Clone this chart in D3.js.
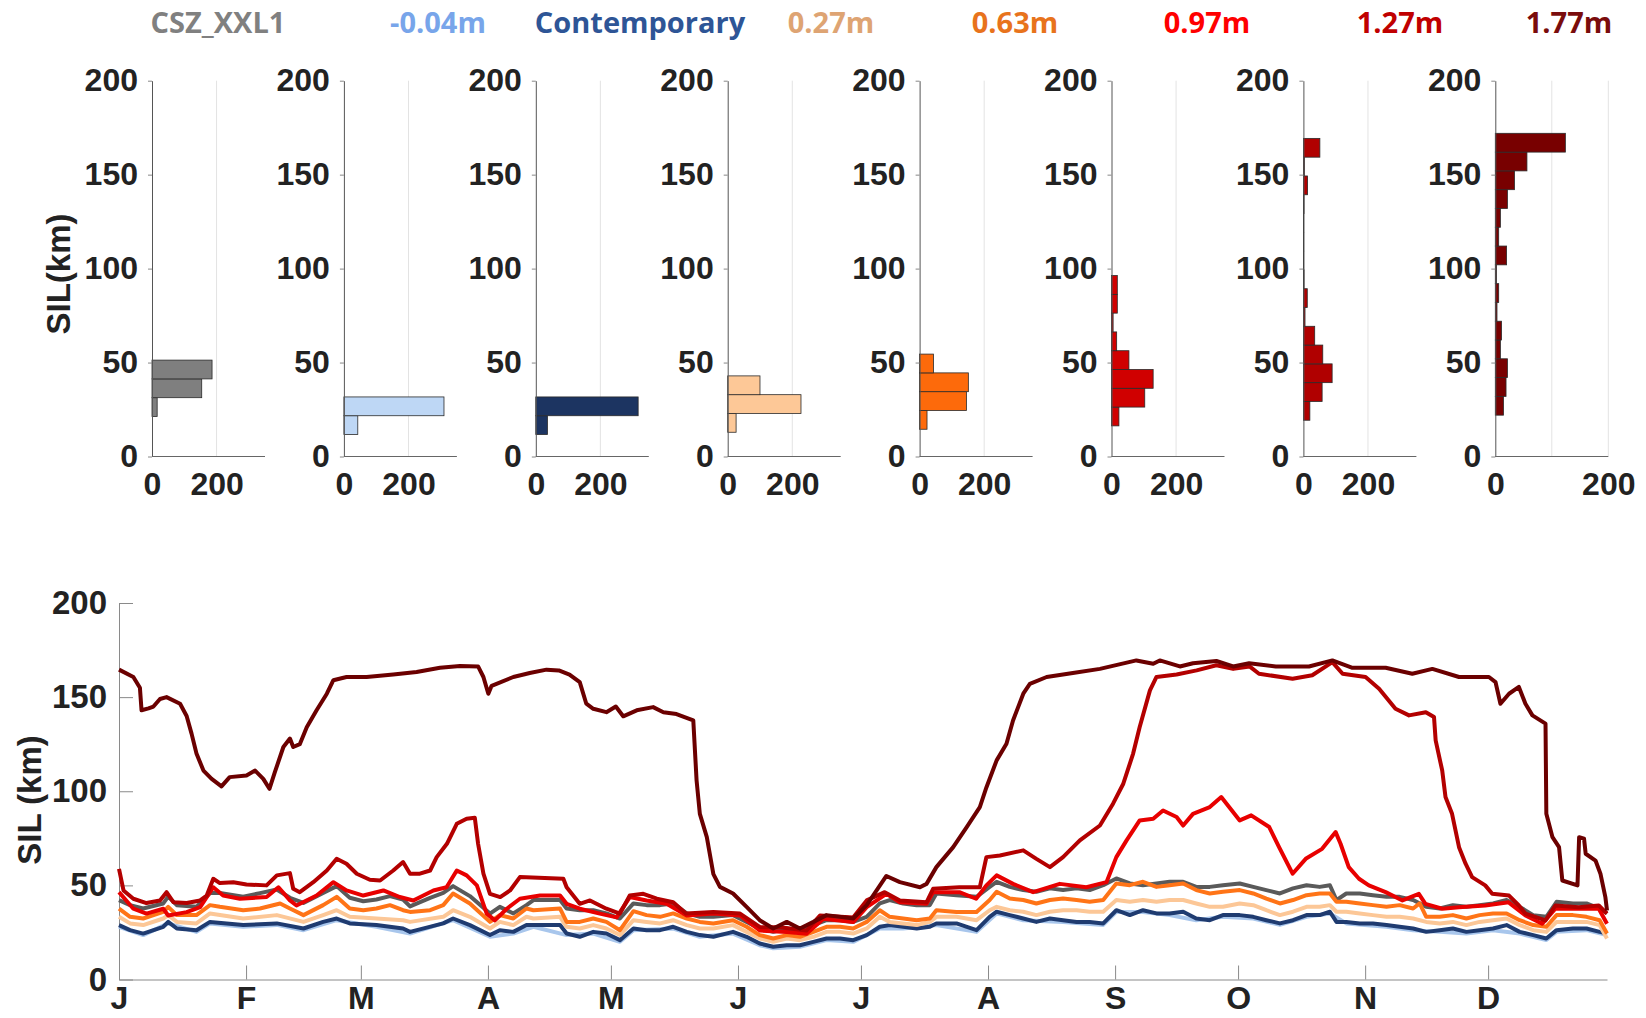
<!DOCTYPE html>
<html>
<head>
<meta charset="utf-8">
<script src="https://cdn.jsdelivr.net/npm/d3@7"></script>
<style>
  body { margin: 0; background: #fff; }
  svg text { font-family: "Liberation Sans", Arial, sans-serif; font-weight: bold; }
  .legend-label { font-family: "Open Sans", sans-serif; font-weight: 700; }
</style>
</head>
<body>
<div id="chart"></div>
<script>
// scenario names and colours
const scenarios = ["CSZ_XXL1", "-0.04m", "Contemporary", "0.27m", "0.63m", "0.97m", "1.27m", "1.77m"];
const legendColors = ["#808080", "#78a5ea", "#2e5596", "#dea473", "#e8731c", "#ff0000", "#c00000", "#7a0c0c"];
const histFill = ["#7f7f7f", "#bed7f5", "#1c3461", "#fdc897", "#fd6a0b", "#d00000", "#b00000", "#780000"];
const lineColors = ["#5a5a5a", "#a8c6ec", "#1f3b70", "#fcc797", "#ff7417", "#e80000", "#b30000", "#6b0000"];

// histogram data: lower edge of first bin (km), 10 km bins, counts (days)
const histBinStart = [21.3, 11.7, 11.7, 12.9, 14.5, 16.3, 19.3, 22];
const histBinWidth = 10;
const histCounts = [
  [16, 154, 186],
  [43, 310],
  [36, 317],
  [26, 227, 100],
  [23, 145, 151, 43],
  [23, 103, 129, 54, 16, 5, 18, 18],
  [20, 58, 89, 60, 35, 5, 12, 2, 1, 1, 1, 2, 13, 3, 51],
  [14.5, 19, 21.5, 9, 11, 3, 6, 2, 20, 6, 9, 21.5, 34, 56, 124]
];
const histXMax = [350, 350, 350, 350, 350, 350, 350, 200];
const histYTicks = [0, 50, 100, 150, 200];

// month ticks (day of year)
const monthStarts = [0, 31, 59, 90, 120, 151, 181, 212, 243, 273, 304, 334];
const monthLabels = ["J", "F", "M", "A", "M", "J", "J", "A", "S", "O", "N", "D"];

// daily SIL (km), [day of year, value]
const silCSZ = [[0,42.2],[2.7,39.5],[5.9,37.7],[10.8,40.4],[12,44],[14.1,39.5],[18.9,38.6],[22.2,45.9],[24.6,45.9],[30.3,44],[34.4,45.9],[38.5,47.8],[41.7,43.4],[45,40.7],[49.8,46],[53.1,49.6],[56.3,43.4],[59.6,41.6],[62.8,42.5],[66.1,44.3],[69.3,42.5],[71,38.8],[75.9,43.4],[79.1,46],[81.5,49.6],[85.6,44.3],[90.5,35],[92.9,38.6],[96.2,35.1],[99.4,39.5],[101.1,42.2],[107.6,42.2],[109.2,37.7],[112.4,36.8],[115.7,36.8],[118.9,35.1],[122.2,32.4],[125.5,40.4],[128.7,39.5],[132,39.5],[135.2,40.4],[138.5,35.1],[141.7,33.3],[145,33.3],[149.8,34.2],[153.1,30.6],[156.3,27.1],[159.6,25.3],[162.9,27.1],[166.1,25.3],[169.4,28.9],[172.6,31.5],[175.9,31.5],[179.1,30.6],[182.4,33.3],[185.6,40.4],[188,42.2],[191.3,40.4],[194.6,39.5],[197.8,39.5],[199.4,45.7],[204.3,44.8],[209.2,43.9],[212.4,49.2],[214.1,51.9],[217.3,49.2],[220.6,47.5],[223.8,46.6],[227.1,48.4],[230.3,47.5],[233.6,48.4],[236.8,47.5],[240.1,50.1],[243.3,53.7],[246.6,51],[249.8,50.1],[253.1,51],[256.3,51.9],[259.6,51.9],[262.8,49.2],[266.1,49.2],[269.3,50.1],[273.4,51],[276.7,49.2],[279.9,47.5],[283.2,45.7],[286.4,48.4],[289.7,50.1],[292.9,49.2],[295.4,50.1],[297,42.2],[299.4,45.7],[302.7,45.7],[305.9,44.8],[309.2,43.9],[312.4,43.9],[315.7,42.2],[318.9,38.6],[322.2,37.7],[325.4,39.5],[328.7,38.6],[331.9,39.5],[335.2,40.4],[338.5,42.2],[341.7,38.6],[345,34.2],[348.2,33.3],[350.7,41.3],[354.7,40.4],[358,40.4],[361.2,37.7],[363,35.1]];
const silM004 = [[0,28],[5.9,23.6],[12,29.8],[18.9,25.3],[22.2,29.8],[30.3,28],[38.5,29],[45,26.2],[53.1,31.5],[62.8,28],[71,24.4],[81.5,31.5],[90.5,22.7],[96.2,24.4],[101.1,28],[109.2,23.6],[115.7,24.4],[122.2,20],[125.5,26.2],[135.2,27.1],[141.7,22.7],[149.8,24.4],[156.3,18.2],[159.6,16.6],[166.1,17.4],[172.6,21],[179.1,20],[185.6,27.1],[191.3,27.1],[199.4,29],[209.2,25.3],[214.1,35.1],[220.6,31.5],[230.3,30.6],[240.1,29],[243.3,35.9],[249.8,35.9],[256.3,34.2],[262.8,31.5],[269.3,33.3],[276.7,32.4],[283.2,29],[289.7,33.3],[295.4,35.1],[299.4,29.8],[309.2,28],[315.7,26.2],[322.2,25.3],[328.7,24.4],[335.2,26.2],[341.7,24.4],[348.2,21],[350.7,25.3],[358,26.2],[363,23.6]];
const silContemp = [[0,28.9],[2.7,26.2],[5.9,24.4],[10.8,28],[12,30.6],[14.1,27.1],[18.9,26.2],[22.2,30.6],[30.3,28.9],[38.5,29.8],[45,27.1],[49.8,30.6],[53.1,32.4],[56.3,29.8],[62.8,28.9],[69.3,27.1],[71,25.3],[79.1,29.8],[81.5,32.4],[85.6,28.9],[90.5,23.6],[92.9,26.2],[96.2,25.3],[99.4,28.9],[101.1,28.9],[107.6,28.9],[109.2,24.4],[112.4,22.7],[115.7,25.3],[118.9,24.4],[122.2,20.9],[125.5,27.1],[128.7,26.2],[132,26.2],[135.2,28],[138.5,25.3],[141.7,23.6],[145,22.7],[149.8,25.3],[153.1,22.7],[156.3,19.1],[159.6,17.4],[162.9,18.2],[166.1,18.2],[169.4,20],[172.6,21.8],[175.9,21.8],[179.1,20.9],[182.4,23.6],[185.6,28],[188,28.9],[191.3,28],[194.6,27.1],[197.8,28],[199.4,29.8],[204.3,29.8],[209.2,26.2],[212.4,33.3],[214.1,36],[217.3,34.2],[220.6,32.4],[223.8,30.6],[227.1,32.4],[230.3,31.5],[233.6,30.6],[236.8,30.6],[240.1,29.8],[243.3,36.8],[246.6,34.2],[249.8,36.8],[253.1,35.1],[256.3,35.1],[259.6,36],[262.8,32.4],[266.1,31.5],[269.3,34.2],[273.4,34.2],[276.7,33.3],[279.9,31.5],[283.2,29.8],[286.4,31.5],[289.7,34.2],[292.9,34.2],[295.4,36],[297,30.6],[299.4,30.6],[302.7,29.8],[305.9,29.8],[309.2,28.9],[312.4,28],[315.7,27.1],[318.9,25.3],[322.2,26.2],[325.4,27.1],[328.7,25.3],[331.9,26.2],[335.2,27.1],[338.5,28.9],[341.7,25.3],[345,23.6],[348.2,21.8],[350.7,26.2],[354.7,27.1],[358,27.1],[361.2,25.3],[363,24.4]];
const sil027 = [[0,33.3],[2.7,29.8],[5.9,28.9],[10.8,32.4],[12,34.2],[14.1,30.6],[18.9,29.8],[22.2,35.1],[30.3,32.4],[38.5,34.2],[45,30.6],[49.8,34.2],[53.1,36.8],[56.3,33.3],[62.8,32.4],[69.3,31.5],[71,30.6],[79.1,33.3],[81.5,36.8],[85.6,33.3],[90.5,27.1],[92.9,30.6],[96.2,28.9],[99.4,33.3],[101.1,32.4],[107.6,33.3],[109.2,28],[112.4,27.1],[115.7,28.9],[118.9,27.1],[122.2,23.6],[125.5,31.5],[128.7,30.6],[132,29.8],[135.2,31.5],[138.5,28.9],[141.7,27.1],[145,27.1],[149.8,28.9],[153.1,25.3],[156.3,21.8],[159.6,20],[162.9,21.8],[166.1,20.9],[169.4,22.7],[172.6,25.3],[175.9,25.3],[179.1,24.4],[182.4,27.1],[185.6,33.3],[188,30.6],[191.3,29.8],[194.6,28.9],[197.8,30.6],[199.4,33.3],[204.3,33.3],[209.2,31.5],[212.4,36.8],[214.1,38.6],[217.3,36.8],[220.6,36],[223.8,34.2],[227.1,36],[230.3,36.8],[233.6,36.8],[236.8,36],[240.1,36],[243.3,42.2],[246.6,41.3],[249.8,42.2],[253.1,41.3],[256.3,42.2],[259.6,42.2],[262.8,40.4],[266.1,38.6],[269.3,38.6],[273.4,40.4],[276.7,39.5],[279.9,36.8],[283.2,34.2],[286.4,36],[289.7,38.6],[292.9,38.6],[295.4,39.5],[297,36],[299.4,36],[302.7,35.1],[305.9,34.2],[309.2,33.3],[312.4,33.3],[315.7,32.4],[318.9,30.6],[322.2,29.8],[325.4,30.6],[328.7,28.9],[331.9,30.6],[335.2,31.5],[338.5,32.4],[341.7,28.9],[345,26.2],[348.2,25.3],[350.7,30.6],[354.7,30.6],[358,30.6],[361.2,28.9],[363,21.8]];
const sil063 = [[0,37.7],[2.7,33.3],[5.9,32.4],[10.8,35.9],[12,38.6],[14.1,34.2],[18.9,34.2],[22.2,39.5],[24.6,38.6],[30.3,36.8],[34.4,37.7],[39.3,40.4],[41.7,37.7],[45,34.2],[49.8,39.5],[53.1,43.9],[56.3,37.7],[59.6,36.8],[62.8,37.7],[66.1,39.5],[69.3,36.8],[71,35.9],[75.9,36.8],[79.1,39.5],[81.5,45.7],[85.6,40.4],[90.5,30.6],[92.9,34.2],[96.2,32.4],[99.4,37.7],[101.1,36.8],[107.6,37.7],[109.2,30.6],[112.4,30.6],[115.7,32.4],[118.9,30.6],[122.2,26.2],[125.5,36.3],[128.7,34.2],[132,33.3],[135.2,35.1],[138.5,32.4],[141.7,30.6],[145,29.8],[149.8,31.5],[153.1,28],[156.3,23.6],[159.6,21.8],[162.9,23.6],[166.1,22.7],[169.4,25.3],[172.6,28],[175.9,28],[179.1,27.1],[182.4,30.6],[185.6,36.8],[188,33.3],[191.3,32.4],[194.6,31.5],[197.8,32.4],[199.4,36.8],[204.3,35.9],[209.2,35.9],[212.4,42.2],[214.1,46.6],[217.3,43],[220.6,42.2],[223.8,40.4],[227.1,42.2],[230.3,43],[233.6,42.2],[236.8,41.3],[240.1,42.2],[243.3,51],[246.6,50.1],[249.8,51.9],[253.1,49.2],[256.3,50.1],[259.6,51],[262.8,47.5],[266.1,45.7],[269.3,46.6],[273.4,47.5],[276.7,45.7],[279.9,43],[283.2,40.4],[286.4,42.2],[289.7,44.8],[292.9,45.7],[295.4,45.7],[297,41.3],[299.4,41.3],[302.7,40.4],[305.9,39.5],[309.2,38.6],[312.4,39.5],[315.7,37.7],[317.3,40.4],[318.9,33.3],[322.2,33.3],[325.4,34.2],[328.7,32.4],[331.9,34.2],[335.2,35.1],[338.5,35.1],[341.7,31.5],[345,28.9],[348.2,28],[350.7,34.2],[354.7,34.2],[358,33.3],[361.2,31.5],[363,24.4]];
const sil097 = [[0,46.4],[3.5,37.6],[6.7,35],[10.8,37.6],[12,34],[16.5,35.8],[19.8,38.4],[23,49],[25.4,44.6],[29.5,42.9],[36,43.8],[38.9,49],[41.7,42],[43.3,39.3],[48.2,44.6],[52.3,51.7],[55.5,47.3],[59.6,44.6],[64.5,47.3],[68.5,43.8],[71.8,42],[76.7,47.3],[79.9,49],[82.4,57.9],[84.8,55.3],[87.3,50],[89.7,35],[91.7,31.4],[94.6,37.6],[97.8,42.9],[102.7,44.6],[107.6,44.6],[109.2,40.2],[112.4,37.6],[117.3,35],[121.4,33],[124.6,43.8],[128.7,42],[133.6,40.2],[138.5,34],[145,35],[151.5,34],[156.4,26],[162.9,25.2],[167.7,24.3],[171.8,32.2],[179.1,30.5],[182.4,38.4],[187.2,45.5],[190.5,41],[197,40.2],[198.6,46.4],[205,46.4],[209.1,42.9],[211.6,50],[214.1,55.3],[218.1,50.8],[223,46.4],[229.5,50.8],[236,49],[240.9,51.7],[243.3,65],[245.8,73.9],[249,84.5],[252.3,85.4],[254.7,89.8],[258,86.3],[259.6,81.8],[262,88],[266.1,91.6],[268.9,96.9],[273.4,84.5],[276.2,87.2],[280.6,81],[283,70.3],[286.3,56.2],[289.5,64.1],[293.5,69.4],[296.8,78.3],[298,72.1],[300,59.7],[302.5,53.5],[304.9,50],[309,46.4],[313.1,42],[317.1,45.5],[318.7,40.2],[322.8,37.6],[326.9,38.4],[333.3,39.3],[339,41],[343.1,34],[347.2,29.6],[350.4,37.6],[356.1,37.6],[361,37.6],[363,29.6]];
const sil127 = [[0,58.8],[1.1,47.3],[3.5,42.9],[6.7,40.6],[10,42],[11.6,46.4],[13.3,41],[16.5,40.6],[19.8,42],[21.4,44.6],[23,53.5],[24.6,51.2],[27.9,51.7],[31.1,50.5],[36,50],[38.5,55.3],[41.7,56.5],[42.5,48.2],[44.1,46.4],[47.4,51.7],[50.7,57.9],[53.1,64.1],[55.5,61.5],[58,56.2],[61.2,53],[63.7,52.6],[66.9,57.9],[69.3,62.4],[71,56.2],[73.4,56.2],[75.9,57.9],[77.5,65],[80,72.1],[82.4,82.7],[84.8,85.4],[86.8,85.9],[87.6,72.1],[88.9,56.2],[90.5,45.5],[93,43.8],[95.4,47.3],[97.8,54.4],[108.4,53.5],[109.2,49],[112.4,40.2],[114.9,42],[118.9,37.6],[122.2,35],[124.6,44.6],[127.9,45.5],[131.2,42.9],[135.2,41],[138.3,35],[145,35.8],[151.5,35],[156.4,27.8],[161.2,27.8],[167.7,26],[171,34],[179.1,33],[182.4,42],[186.8,46.4],[190.5,42],[197,41],[198.6,48.2],[205,49],[210,49],[211.6,65],[214.9,65.9],[220.6,68.6],[223.8,64.1],[227.1,59.7],[230.3,65],[234.4,73.9],[239.3,81.8],[242.5,93.4],[245,104],[247.4,120],[249,134.1],[251.5,153.6],[253.1,160.7],[258,162],[262.9,164.2],[267.7,166.9],[271.8,165],[275.8,166.3],[278.1,162.4],[286.3,159.8],[291.1,161.6],[296,168.6],[298.5,162.4],[304.1,160.7],[307.4,154.5],[311.4,143.8],[314.7,140.3],[318.8,142],[320.8,139.4],[321.2,127],[322.8,111],[323.6,96.9],[325.2,88],[326.9,70.3],[328.5,61.5],[330.1,54.4],[333.3,50],[335,45.5],[339.1,44.6],[341.5,39.3],[343.1,35],[348,31.4],[350.4,39.3],[356.1,38.4],[361,39.3],[363,35]];
const sil177 = [[0,164.6],[3.5,160.7],[5.1,155],[5.5,143],[7.2,144],[8.4,145],[10,149],[11.6,150],[14.9,146.5],[16.5,140],[17.7,130.6],[18.9,120],[20.6,111],[22.6,106.6],[25,102.6],[27,107.5],[31.1,108.4],[33.2,111],[35.2,106.6],[36.7,101.3],[38,110],[40.1,123.5],[41.7,128],[42.5,123.5],[44.1,125],[45.8,134],[48.2,143],[50.7,151.8],[52.3,159],[55.5,160.7],[60.4,160.7],[66.9,162],[72.6,163.3],[78.3,165.6],[83.2,166.5],[87.6,166.3],[88.9,160.7],[90.1,151.8],[90.9,156],[96.2,160.7],[100.2,162.8],[104.3,164.6],[107.3,164.2],[109.9,162],[112.4,158],[114,146.5],[115.7,143.8],[118.9,142],[121.2,145],[123,139.8],[126.3,143],[130.3,144.7],[132.8,142],[136,141],[140.1,137.6],[140.9,105.8],[141.7,88],[143.4,75.6],[145,56],[146.6,49.2],[149.8,45.7],[153.1,38.6],[156.3,31.5],[159.6,27.1],[162.9,30.6],[166.1,27.1],[169.4,30.6],[172.6,34.2],[179.1,32.4],[182.4,39.5],[187.2,55],[190.5,51.7],[195.4,49],[197,50.8],[199.4,59.7],[203.5,70.3],[206.8,81],[210,91.6],[211.6,102],[214.1,116.4],[216.5,125.2],[218.1,137.6],[220.6,151.8],[222.2,157],[226.3,160.7],[232.7,162.8],[239.3,165],[248.2,169.5],[252.3,167.7],[253.9,169.5],[258.8,166.3],[262,168],[267.7,169.2],[271.8,166.3],[275.7,168],[282.2,166.3],[290.3,166.3],[296,169.5],[300.9,165.6],[309,165.6],[315.5,162.4],[320.4,165],[326.9,160.7],[334.2,160.7],[335.8,158],[337,146.5],[339.1,151.8],[341.5,155.4],[343.1,146.5],[344.8,140.3],[348,135.9],[348.2,88],[349.7,75.6],[351.3,70.3],[352.1,52.6],[355.8,50],[356.2,75.6],[357.4,74.8],[357.8,66.8],[360.2,63.2],[361.4,56.2],[362.6,43.8],[363,36.7]];

const lineSeries = [silCSZ, silM004, silContemp, sil027, sil063, sil097, sil127, sil177];

function drawChart() {
    const width = 1646, height = 1018;
    const svg = d3.select("#chart")
        .append("svg")
        .attr("width", width)
        .attr("height", height);

    // Legend row across the top
    const legendX = [218, 438, 640, 831, 1015, 1207, 1400, 1569];
    svg.selectAll(".legend-label")
        .data(scenarios)
        .enter()
        .append("text")
        .attr("class", "legend-label")
        .attr("x", (d, i) => legendX[i])
        .attr("y", 33)
        .attr("text-anchor", "middle")
        .style("font-size", "29px")
        .attr("fill", (d, i) => legendColors[i])
        .text(d => d);

    // ---- Histograms ----
    const histLeft = 152, histStep = 191.9, histW = 113;
    const histY = d3.scaleLinear().domain([0, 200]).range([456.5, 80.7]);

    scenarios.forEach((name, p) => {
        const g = svg.append("g")
            .attr("transform", `translate(${histLeft + p * histStep},0)`);
        const hx = d3.scaleLinear().domain([0, histXMax[p]]).range([0, histW]);

        // light vertical gridlines
        const grid = histXMax[p] === 200 ? [100, 200] : [200];
        g.selectAll(".hgrid")
            .data(grid)
            .enter()
            .append("line")
            .attr("x1", d => hx(d))
            .attr("x2", d => hx(d))
            .attr("y1", histY(0))
            .attr("y2", histY(200))
            .attr("stroke", "#e3e3e3")
            .attr("stroke-width", 1);

        // bars
        g.selectAll(".hbar")
            .data(histCounts[p])
            .enter()
            .append("rect")
            .attr("x", hx(0))
            .attr("y", (d, i) => histY(histBinStart[p] + (i + 1) * histBinWidth))
            .attr("width", d => hx(d) - hx(0))
            .attr("height", (d, i) => histY(histBinStart[p] + i * histBinWidth) - histY(histBinStart[p] + (i + 1) * histBinWidth))
            .attr("fill", histFill[p])
            .attr("stroke", "#2a2a2a")
            .attr("stroke-width", 0.8);

        // y axis
        const yAxis = g.append("g")
            .call(d3.axisLeft(histY).tickValues(histYTicks).tickSizeInner(4).tickSizeOuter(0).tickPadding(10));
        yAxis.select(".domain").attr("stroke", "#555");
        yAxis.selectAll(".tick line").attr("stroke", "#888");
        yAxis.selectAll("text").style("font-size", "32px").attr("fill", "#222");

        // x axis
        const xAxis = g.append("g")
            .attr("transform", `translate(0,${histY(0)})`)
            .call(d3.axisBottom(hx).tickValues([0, 200]).tickSize(0).tickPadding(16));
        xAxis.select(".domain").attr("stroke", "#666").attr("d", `M0,0H${histW}`);
        xAxis.selectAll("text").style("font-size", "32px").attr("fill", "#222");
    });

    svg.append("text")
        .attr("transform", "translate(70,274) rotate(-90)")
        .attr("text-anchor", "middle")
        .style("font-size", "33px")
        .attr("fill", "#222")
        .text("SIL(km)");

    // ---- Time series of SIL ----
    const x = d3.scaleLinear().domain([0, 363]).range([119, 1607]);
    const y = d3.scaleLinear().domain([0, 200]).range([979.5, 603]);

    const yAxisB = svg.append("g")
        .attr("transform", `translate(${x(0)},0)`)
        .call(d3.axisLeft(y).tickValues([0, 50, 100, 150, 200]).tickSizeInner(-14).tickSizeOuter(0).tickPadding(12));
    yAxisB.selectAll("path, line").attr("stroke", "#8a8a8a");
    yAxisB.selectAll("text").style("font-size", "33px").attr("fill", "#222");

    const xAxisB = svg.append("g")
        .attr("transform", `translate(0,${y(0)})`)
        .call(d3.axisBottom(x).tickValues(monthStarts).tickFormat((d, i) => monthLabels[i])
            .tickSizeInner(-14).tickSizeOuter(0).tickPadding(7));
    xAxisB.selectAll("path, line").attr("stroke", "#8a8a8a");
    xAxisB.selectAll("text").style("font-size", "32px").attr("fill", "#222");

    const line = d3.line()
        .x(d => x(d[0]))
        .y(d => y(d[1]));

    svg.selectAll(".sil-line")
        .data(lineSeries)
        .enter()
        .append("path")
        .attr("class", "sil-line")
        .attr("d", line)
        .attr("fill", "none")
        .attr("stroke", (d, i) => lineColors[i])
        .attr("stroke-width", 4)
        .attr("stroke-linejoin", "round");

    svg.append("text")
        .attr("transform", "translate(41,800) rotate(-90)")
        .attr("text-anchor", "middle")
        .style("font-size", "33px")
        .attr("fill", "#222")
        .text("SIL (km)");
}

drawChart();
</script>
</body>
</html>
